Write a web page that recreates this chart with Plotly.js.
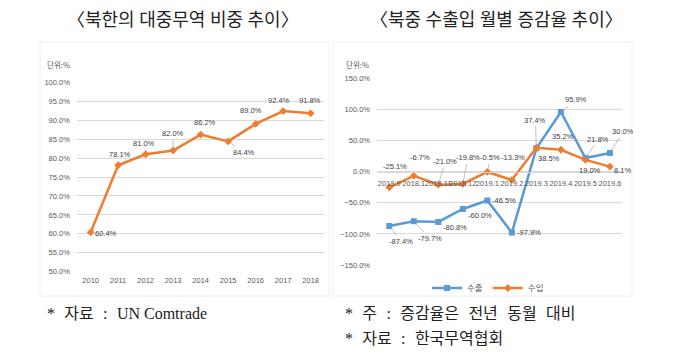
<!DOCTYPE html>
<html><head><meta charset="utf-8">
<script src="https://cdn.plot.ly/plotly-3.0.1.min.js"></script>
<style>html,body{margin:0;padding:0;background:#fff}#c{width:680px;height:357px}</style>
</head><body><div id="c"></div>
<script>
// ---- data ----
const years = ['2010','2011','2012','2013','2014','2015','2016','2017','2018'];
const shareChina = [60.4, 78.1, 81.0, 82.0, 86.2, 84.4, 89.0, 92.4, 91.8];
const months = ['2018.9','2018.1','2018.11','2018.12','2019.1','2019.2','2019.3','2019.4','2019.5','2019.6'];
const exportGrowth = [-87.4, -79.7, -80.8, -60.0, -46.5, -97.9, 37.4, 95.9, 21.8, 30.0];
const importGrowth = [-25.1, -6.7, -21.0, -19.8, -0.5, -13.3, 38.5, 35.2, 19.0, 8.1];
const seriesNames = ['수출', '수입'];

// ---- label offsets (px) & leader flags (style only) ----
const leftOff = [[15,1,0],[2,-11,0],[-2,-11,0],[0,-17,1],[4,-12,0],[16,11,1],[-5,-13,0],[-4,-11,0],[-1,-13,0]];
const expOff = [[12,15,1],[16,17,1],[17,6,0],[17,7,0],[17,0,0],[17,0,0],[-1,-28,1],[15,-12,1],[13,-19,1],[13,-21,1]];
const impOff = [[6,-21,0],[6,-18,0],[7,-23,1],[5,-26,1],[3,-14,1],[1,-22,0],[13,11,0],[2,-13,0],[5,11,0],[13,4,0]];

const W = 680, H = 357;
const px = v => v / W, py = v => 1 - v / H;
const ORANGE = '#ED7D31', BLUE = '#5B9BD5', GRID = '#d9d9d9', TXT = '#595959';
const NUMFONT = 'Liberation Sans Narrow, Arial Narrow, Liberation Sans, sans-serif';
const KFONT = 'Noto Sans CJK KR, sans-serif';
const SERIF = 'Liberation Serif, Noto Sans CJK KR, serif';
const fmt = v => v.toFixed(1) + '%';

const traces = [
  {x: years, y: shareChina, xaxis: 'x', yaxis: 'y', mode: 'lines+markers', showlegend: false,
   line: {color: ORANGE, width: 2.5}, marker: {symbol: 'diamond', size: 6, color: ORANGE}},
  {x: months, y: exportGrowth, xaxis: 'x2', yaxis: 'y2', mode: 'lines+markers', name: seriesNames[0],
   line: {color: BLUE, width: 2.5}, marker: {symbol: 'square', size: 6, color: BLUE}},
  {x: months, y: importGrowth, xaxis: 'x2', yaxis: 'y2', mode: 'lines+markers', name: seriesNames[1],
   line: {color: ORANGE, width: 2.5}, marker: {symbol: 'diamond', size: 6, color: ORANGE}}
];

const annotations = [];
function labels(xs, ys, offs, xref, yref) {
  xs.forEach((xv, i) => {
    const [dx, dy, lead] = offs[i];
    // category axis: position by category index
    const a = {x: i, y: ys[i], xref, yref, text: fmt(ys[i]),
      font: {family: NUMFONT, size: 7.5, color: '#404040'}};
    if (lead) {
      Object.assign(a, {showarrow: true, arrowhead: 0, arrowwidth: 0.7, arrowcolor: '#a6a6a6',
        ax: dx, ay: dy, standoff: 3});
    } else {
      Object.assign(a, {showarrow: false, xshift: dx, yshift: -dy});
    }
    annotations.push(a);
  });
}
labels(years, shareChina, leftOff, 'x', 'y');
labels(months, exportGrowth, expOff, 'x2', 'y2');
labels(months, importGrowth, impOff, 'x2', 'y2');

const paperText = (x, y, text, size, family, color, xanchor) => ({
  x: px(x), y: py(y), xref: 'paper', yref: 'paper', text, showarrow: false,
  xanchor: xanchor || 'center', yanchor: 'middle', font: {size, family, color: color || '#222'}});

const SP = '\u2002\u200A';
annotations.push(paperText(183, 20, '〈북한의 대중무역 비중 추이〉', 18, SERIF));
annotations.push(paperText(497, 20, '〈북중 수출입 월별 증감율 추이〉', 18, SERIF));
annotations.push(paperText(58, 64, '단위:%', 7.5, KFONT, TXT));
annotations.push(paperText(357, 64, '단위:%', 7.5, KFONT, TXT));
annotations.push(paperText(45, 313, '*' + SP + '자료' + SP + ':' + SP + 'UN Comtrade', 16, SERIF, '#222', 'left'));
annotations.push(paperText(343, 313, '*' + SP + '주' + SP + ':' + SP + '증감율은' + SP + '전년' + SP + '동월' + SP + '대비', 16, SERIF, '#222', 'left'));
annotations.push(paperText(343, 338, '*' + SP + '자료' + SP + ':' + SP + '한국무역협회', 16, SERIF, '#222', 'left'));

const tickfont = {family: NUMFONT, size: 7.5, color: TXT};
const layout = {
  width: W, height: H, margin: {l: 0, r: 0, t: 0, b: 0},
  paper_bgcolor: '#fff', plot_bgcolor: 'rgba(0,0,0,0)',
  showlegend: true,
  legend: {orientation: 'h', x: px(488), y: py(288), xanchor: 'center', yanchor: 'middle',
    font: {family: KFONT, size: 8.5, color: TXT}, itemwidth: 30, tracegroupgap: 0, bgcolor: 'rgba(0,0,0,0)'},
  xaxis: {domain: [px(76.9), px(324.4)], anchor: 'y', type: 'category', range: [-0.5, 8.5],
    showgrid: false, zeroline: false, showline: false, ticks: '', tickfont, ticklabelstandoff: 3, tickangle: 0},
  yaxis: {domain: [py(271.7), py(82.3)], anchor: 'x', range: [50, 100], dtick: 5, tick0: 50,
    tickformat: '.1f', ticksuffix: '%', showgrid: true, gridcolor: GRID, gridwidth: 1,
    zeroline: false, showline: false, ticks: '', tickfont, ticklabelstandoff: 6},
  xaxis2: {domain: [px(377), px(622.2)], anchor: 'free', position: py(172.3), type: 'category',
    range: [-0.5, 9.5], showgrid: false, zeroline: false, showline: true, linecolor: GRID, linewidth: 1,
    ticks: '', tickfont, ticklabelstandoff: 4, tickangle: 0},
  yaxis2: {domain: [py(265), py(78.3)], anchor: 'x2', range: [-150, 150], dtick: 50, tick0: -150,
    tickformat: '.1f', ticksuffix: '%', showgrid: true, gridcolor: GRID, gridwidth: 1,
    zeroline: false, showline: false, ticks: '', tickfont, ticklabelstandoff: 6},
  annotations,
  shapes: [
    {type: 'rect', xref: 'paper', yref: 'paper', x0: px(40), x1: px(329), y0: py(296), y1: py(42),
     line: {color: '#eeeeee', width: 1}, layer: 'below'},
    {type: 'rect', xref: 'paper', yref: 'paper', x0: px(333), x1: px(632), y0: py(296), y1: py(42),
     line: {color: '#eeeeee', width: 1}, layer: 'below'}
  ]
};
Plotly.newPlot('c', traces, layout, {staticPlot: true, displayModeBar: false});
</script></body></html>
